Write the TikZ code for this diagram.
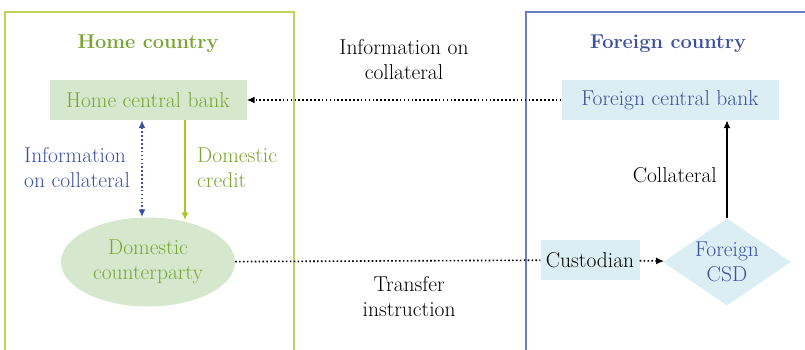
\documentclass[tikz,border=0pt]{standalone}
\usepackage{xcolor}
\usepackage{tikz}
\usetikzlibrary{shapes,arrows,positioning,calc,arrows.meta}

\definecolor{homegreen}{RGB}{122,165,50}
\definecolor{homeline}{RGB}{190,212,90}
\definecolor{creditgreen}{RGB}{170,200,30}
\definecolor{homefill}{RGB}{213,232,205}
\definecolor{foreignblue}{RGB}{60,80,160}
\definecolor{foreignline}{RGB}{105,125,195}
\definecolor{foreignfill}{RGB}{218,238,243}

\tikzset{
    txt/.style={font=\fontsize{21.5}{25}\selectfont, align=center, inner sep=0pt},
    homebox/.style={txt, fill=homefill, text=homegreen},
    foreignbox/.style={txt, fill=foreignfill, text=foreignblue},
    dotline/.style={line width=1.6pt, dash pattern=on 1.6pt off 2.3pt},
    tip/.style={-{Latex[length=8pt,width=7pt]}}
}

\begin{document}
\begin{tikzpicture}[x=1pt,y=-1pt]
    \useasboundingbox (0,0) rectangle (805,350);
    % country frames, open at the bottom
    \draw[homeline, line width=1.3pt] (5,350) -- (5,12) -- (294,12) -- (294,350);
    \draw[foreignline, line width=1.3pt] (526,350) -- (526,12) -- (805,12);

    \node[txt, text=homegreen, font=\fontsize{20}{25}\selectfont\bfseries] (hometitle) at (148,44) {Home country};
    \node[txt, text=foreignblue, font=\fontsize{20}{25}\selectfont\bfseries] (foreigntitle) at (668,44) {Foreign country};

    % institutions
    \node[homebox, minimum width=197pt, minimum height=40pt] (hcb) at (148,100) {Home central bank};
    \node[foreignbox, minimum width=217pt, minimum height=40pt] (fcb) at (670,100) {Foreign central bank};
    \node[homebox, ellipse, minimum width=174pt, minimum height=89pt] (dcp) at (148,262) {Domestic\\counterparty};
    \node[txt, fill=foreignfill, minimum width=99pt, minimum height=40pt] (cust) at (590,260) {Custodian};
    \node[foreignbox, diamond, inner sep=-12pt, minimum width=128pt, minimum height=87pt] (csd) at (727,262) {Foreign\\CSD};

    % flows
    \draw[dotline, tip] (fcb) -- (hcb)
        node[txt, midway, above=20pt] (infotop) {Information on\\collateral};
    \draw[dotline] (dcp) -- (cust)
        node[txt, pos=0.57, below=15pt] (transfer) {Transfer\\instruction};
    \draw[dotline, tip] (cust) -- (csd);
    \draw[line width=1.8pt, tip] (csd.north) -- (csd.north |- fcb.south);
    \node[txt, anchor=east] (coll) at (717,175) {Collateral};

    \draw[foreignblue, dotline, {Latex[length=8pt,width=7pt]}-{Latex[length=8pt,width=7pt]}]
        ([xshift=-6pt]hcb.south) -- ([xshift=-6pt]dcp.north);
    \draw[creditgreen, line width=1.8pt, tip]
        ([xshift=37pt]hcb.south) -- ([xshift=37pt,yshift=-3pt]dcp.north);

    \node[txt, text=foreignblue, align=left, anchor=west] (infoleft) at (24,168) {Information\\on collateral};
    \node[txt, text=homegreen, align=left, anchor=west] (credit) at (197,168) {Domestic\\credit};
\end{tikzpicture}
\end{document}
